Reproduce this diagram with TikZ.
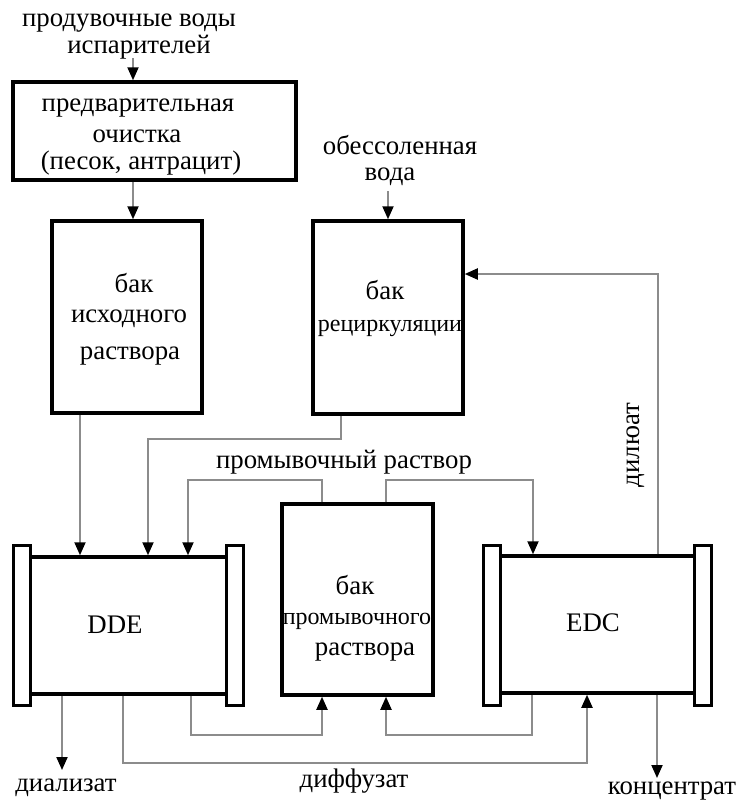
\documentclass[tikz,border=0pt]{standalone}
\usepackage{fontspec}
\setmainfont{Liberation Serif}
\usetikzlibrary{arrows.meta}
\begin{document}
\begin{tikzpicture}[x=1pt,y=-1pt,
  box/.style={draw=black,line width=3.5pt,fill=white,inner sep=0pt},
  endcap/.style={draw=black,line width=3pt,fill=white,inner sep=0pt,minimum width=17pt,minimum height=160pt},
  txt/.style={inner sep=0pt,font=\fontsize{26.8}{27}\selectfont},
  stxt/.style={inner sep=0pt,font=\fontsize{24}{24}\selectfont},
  flow/.style={draw={rgb,255:red,140;green,140;blue,140},line width=2pt,-{Triangle[length=13pt,width=11pt,color=black]}}]
\useasboundingbox (0,0) rectangle (744,803);
% boxes
\node[box,minimum width=283pt,minimum height=98pt] (pre) at (154.5,131) {};
\node[box,minimum width=150pt,minimum height=192pt] (tank1) at (127,317) {};
\node[box,minimum width=150pt,minimum height=193pt] (tank2) at (388,317.5) {};
\node[box,minimum width=151pt,minimum height=191pt] (wash) at (357.5,599.5) {};
\node[box,minimum width=197pt,minimum height=137pt] (dde) at (128.5,625.5) {};
\node[endcap] (ddeL) at (21.5,625) {};
\node[endcap] (ddeR) at (235,625) {};
\node[box,minimum width=195pt,minimum height=137pt] (edc) at (597.5,624.5) {};
\node[endcap] (edcL) at (491.5,625) {};
\node[endcap] (edcR) at (703,625) {};
% texts
\node[txt] (t1) at (129,23) {продувочные воды};
\node[txt] (t2) at (139,47) {испарителей};
\node[txt] (p1) at (138,108) {предварительная};
\node[txt] (p2) at (137,136) {очистка};
\node[txt] (p3) at (141,163) {(песок, антрацит)};
\node[txt] (a1) at (134,283) {бак};
\node[txt] (a2) at (129,319) {исходного};
\node[txt] (a3) at (130,356) {раствора};
\node[txt] (o1) at (400,145) {обессоленная};
\node[txt] (o2) at (390,177) {вода};
\node[txt] (r1) at (385,290) {бак};
\node[stxt] (r2) at (390,328) {рециркуляции};
\node[txt] (wl) at (344,462) {промывочный раствор};
\node[txt] (w1) at (355,585) {бак};
\node[stxt] (w2) at (357,621) {промывочного};
\node[txt] (w3) at (365,652) {раствора};
\node[txt] (ddet) at (115,625) {DDE};
\node[txt] (edct) at (593,623) {EDC};
\node[txt,rotate=90] (dil) at (636,445) {дилюат};
\node[txt] (dia) at (66,788) {диализат};
\node[txt] (dif) at (354,781) {диффузат};
\node[txt] (con) at (672,791) {концентрат};
% helper coordinates
\coordinate (in1) at (133,58);
\coordinate (in2) at (388,191);
\coordinate (c1) at (341,439);
\coordinate (c2) at (148,439);
\coordinate (c3) at (322,480);
\coordinate (c4) at (188,480);
\coordinate (c5) at (386,480);
\coordinate (c6) at (533,480);
\coordinate (c7) at (658,274);
\coordinate (outdia) at (62,770);
\coordinate (d1) at (123,763);
\coordinate (d2) at (587,763);
\coordinate (e1) at (191,735);
\coordinate (e2) at (322,735);
\coordinate (e3) at (532,735);
\coordinate (e4) at (386,735);
\coordinate (outcon) at (657,778);
\coordinate (x80) at (80,0);
% connectors
\draw[flow] (in1) -- (in1 |- pre.north);
\draw[flow] (pre.south -| in1) -- (tank1.north -| in1);
\draw[flow] (in2) -- (in2 |- tank2.north);
\draw[flow] (tank1.south -| x80) -- (dde.north -| x80);
\draw[flow] (tank2.south -| c1) -- (c1) -- (c2) -- (dde.north -| c2);
\draw[flow] (wash.north -| c3) -- (c3) -- (c4) -- (dde.north -| c4);
\draw[flow] (wash.north -| c5) -- (c5) -- (c6) -- (edc.north -| c6);
\draw[flow] (edc.north -| c7) -- (c7) -- (tank2.east |- c7);
\draw[flow] (dde.south -| outdia) -- (outdia);
\draw[flow] (dde.south -| d1) -- (d1) -- (d2) -- (edc.south -| d2);
\draw[flow] (dde.south -| e1) -- (e1) -- (e2) -- (wash.south -| e2);
\draw[flow] (edc.south -| e3) -- (e3) -- (e4) -- (wash.south -| e4);
\draw[flow] (edc.south -| outcon) -- (outcon);
\end{tikzpicture}
\end{document}
